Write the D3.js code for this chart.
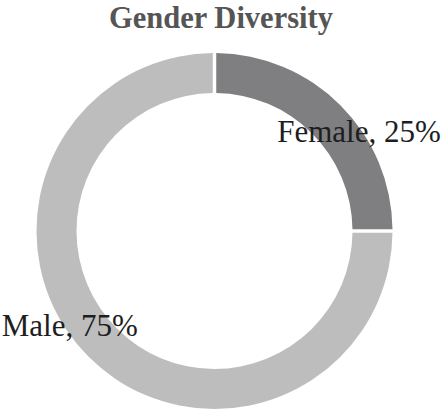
<!DOCTYPE html>
<html>
<head>
<meta charset="utf-8">
<script src="https://cdn.jsdelivr.net/npm/d3@7"></script>
<style>
  html, body { margin: 0; padding: 0; background: #ffffff; }
  svg { display: block; }
</style>
</head>
<body>
<div id="chart"></div>
<script>
const categories = ["Female", "Male"];
const values = [25, 75];
const colors = ["#7f7f81", "#bdbdbe"];
const title = "Gender Diversity";

const width = 442, height = 417;
const cx = 214.5, cy = 231;
const outerR = 178, innerR = 138;
const gap = 3.5;

const svg = d3.select("#chart").append("svg")
  .attr("width", width).attr("height", height);

svg.append("text")
  .attr("x", 221).attr("y", 27.5)
  .attr("text-anchor", "middle")
  .attr("font-family", "'Liberation Serif', 'Times New Roman', serif")
  .attr("font-weight", "bold")
  .attr("font-size", 30.5)
  .attr("fill", "#555555")
  .text(title);

const data = categories.map((c, i) => ({ name: c, value: values[i], color: colors[i] }));
const pie = d3.pie().value(d => d.value).sort(null);
const padR = Math.sqrt(outerR * outerR + innerR * innerR);
const arc = d3.arc().innerRadius(innerR).outerRadius(outerR)
  .padAngle(gap / padR).padRadius(padR);

const g = svg.append("g").attr("transform", `translate(${cx},${cy})`);
const arcs = pie(data);
g.selectAll("path").data(arcs).enter().append("path")
  .attr("d", arc)
  .attr("fill", d => d.data.color);

// label offsets relative to each slice centroid (start-anchored text)
const labelOffsets = [[-49, 23], [-101, -7]];
const total = d3.sum(values);
g.selectAll("text.lbl").data(arcs).enter().append("text")
  .attr("class", "lbl")
  .attr("x", (d, i) => arc.centroid(d)[0] + labelOffsets[i][0])
  .attr("y", (d, i) => arc.centroid(d)[1] + labelOffsets[i][1])
  .attr("font-family", "'Liberation Serif', 'Times New Roman', serif")
  .attr("font-size", 31)
  .attr("fill", "#1e1e1e")
  .text(d => `${d.data.name}, ${Math.round(d.data.value / total * 100)}%`);
</script>
</body>
</html>
